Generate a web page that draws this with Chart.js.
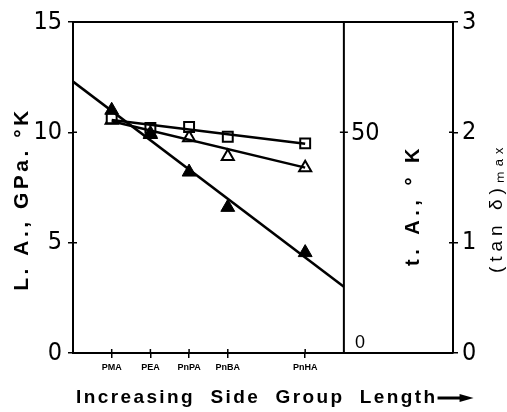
<!DOCTYPE html>
<html>
<head>
<meta charset="utf-8">
<script src="https://cdn.jsdelivr.net/npm/chart.js@4"></script>
<style>
  html, body { margin: 0; padding: 0; background: #fff; }
  canvas { display: block; }
</style>
</head>
<body>
<canvas id="chart" width="507" height="412"></canvas>
<script>
// dados
const categories = ['PMA', 'PEA', 'PnPA', 'PnBA', 'PnHA'];
const sideGroupLength = [1, 2, 3, 4, 6];
const laValues = [11.0, 9.95, 8.2, 6.6, 4.55];        // L.A., GPa.°K (filled triangles)
const taValues = [53.2, 51.0, 51.2, 49.0, 47.5];      // t.A., °K (open squares)
const tanDeltaValues = [2.11, 1.98, 1.95, 1.78, 1.68]; // (tan δ)max (open triangles)

// linhas ajustadas
const laFitX = [0, 7];
const laFit = [12.3, 3.0];
const taFitX = [1, 6];
const taFit = [52.8, 47.4];
const tanFitX = [1, 6];
const tanFit = [2.1, 1.68];

// ticks
const laTicks = [0, 5, 10, 15];
const taTicks = [0, 50];
const tanTicks = [0, 1, 2, 3];
const tAxisAt = 7; // eixo t.A. no meio

const numFont = '"Liberation Sans Narrow", "DejaVu Sans Condensed", sans-serif';
const boldFont = '"Liberation Sans", Arial, sans-serif';

function pts(xs, ys) {
    return xs.map((x, i) => ({ x: x, y: ys[i] }));
}

function rotatedText(ctx, text, x, y, font, spacing) {
    ctx.save();
    ctx.translate(x, y);
    ctx.rotate(-Math.PI / 2);
    ctx.font = font;
    ctx.letterSpacing = spacing;
    ctx.textAlign = 'center';
    ctx.textBaseline = 'middle';
    ctx.fillText(text, 0, 0);
    ctx.restore();
}

// desenha eixo do meio, titulos e marcas internas
const extraAxes = {
    id: 'extraAxes',
    afterDraw(chart) {
        const { ctx, chartArea, scales } = chart;
        const xm = scales.x.getPixelForValue(tAxisAt);
        ctx.save();
        ctx.strokeStyle = '#000';
        ctx.fillStyle = '#000';
        ctx.lineWidth = 2;

        // borda superior
        ctx.beginPath();
        ctx.moveTo(chartArea.left - 1, chartArea.top);
        ctx.lineTo(chartArea.right + 1, chartArea.top);
        ctx.stroke();

        // eixo t.A.
        ctx.beginPath();
        ctx.moveTo(xm, chartArea.top);
        ctx.lineTo(xm, chartArea.bottom);
        ctx.stroke();

        // marcas internas
        ctx.lineWidth = 1.5;
        ctx.beginPath();
        scales.x.ticks.forEach(t => {
            const px = scales.x.getPixelForValue(t.value);
            ctx.moveTo(px, chartArea.bottom);
            ctx.lineTo(px, chartArea.bottom - 4);
        });
        scales.y.ticks.forEach(t => {
            const py = scales.y.getPixelForValue(t.value);
            ctx.moveTo(chartArea.left, py);
            ctx.lineTo(chartArea.left + 4, py);
        });
        scales.y3.ticks.forEach(t => {
            const py = scales.y3.getPixelForValue(t.value);
            ctx.moveTo(chartArea.right, py);
            ctx.lineTo(chartArea.right - 4, py);
        });
        taTicks.forEach(v => {
            if (v === 0) return;
            const py = scales.y2.getPixelForValue(v);
            ctx.moveTo(xm - 4, py);
            ctx.lineTo(xm + 4, py);
        });
        ctx.stroke();

        // rotulos t.A.
        ctx.textAlign = 'left';
        taTicks.forEach(v => {
            const py = scales.y2.getPixelForValue(v);
            if (v === 0) {
                ctx.font = '18px ' + boldFont;
                ctx.textBaseline = 'bottom';
                ctx.fillText(String(v), xm + 11, py - 1);
            } else {
                ctx.font = '25px ' + numFont;
                ctx.textBaseline = 'middle';
                ctx.fillText(String(v), xm + 7, py + 1);
            }
        });

        // titulo do eixo x
        ctx.save();
        ctx.font = 'bold 19px ' + boldFont;
        ctx.letterSpacing = '2.4px';
        ctx.textAlign = 'left';
        ctx.textBaseline = 'middle';
        ctx.fillText('Increasing  Side  Group  Length', chartArea.left + 3, chartArea.bottom + 45);
        const w = ctx.measureText('Increasing  Side  Group  Length').width;
        ctx.restore();

        // seta
        const ax = chartArea.left + 3 + w;
        const ay = chartArea.bottom + 45;
        ctx.lineWidth = 3;
        ctx.beginPath();
        ctx.moveTo(ax, ay);
        ctx.lineTo(ax + 26, ay);
        ctx.stroke();
        ctx.beginPath();
        ctx.moveTo(ax + 36, ay);
        ctx.lineTo(ax + 22, ay - 4);
        ctx.lineTo(ax + 22, ay + 4);
        ctx.closePath();
        ctx.fill();

        // titulos girados (de baixo para cima)
        rotatedText(ctx, 'L. A., GPa. °K', 22, 199, 'bold 21px ' + boldFont, '3.5px');
        rotatedText(ctx, 't. A., ° K', xm + 70, 205, 'bold 20px ' + boldFont, '4.5px');
        rotatedText(ctx, '(tan δ)ₘₐₓ', chartArea.right + 44, 208, '19px ' + boldFont, '5px');

        ctx.restore();
    }
};

const ctx = document.getElementById('chart').getContext('2d');

new Chart(ctx, {
    type: 'line',
    data: {
        datasets: [
            {
                label: 'L.A. fit',
                data: pts(laFitX, laFit),
                yAxisID: 'y',
                borderColor: '#000',
                borderWidth: 2.5,
                pointRadius: 0
            },
            {
                label: 't.A. fit',
                data: pts(taFitX, taFit),
                yAxisID: 'y2',
                borderColor: '#000',
                borderWidth: 2.5,
                pointRadius: 0
            },
            {
                label: 'tan delta fit',
                data: pts(tanFitX, tanFit),
                yAxisID: 'y3',
                borderColor: '#000',
                borderWidth: 2.5,
                pointRadius: 0
            },
            {
                label: 'L.A.',
                data: pts(sideGroupLength, laValues),
                yAxisID: 'y',
                showLine: false,
                pointStyle: 'triangle',
                pointRadius: 8,
                pointBackgroundColor: '#000',
                pointBorderColor: '#000',
                pointBorderWidth: 1
            },
            {
                label: 't.A.',
                data: pts(sideGroupLength, taValues),
                yAxisID: 'y2',
                showLine: false,
                pointStyle: 'rect',
                pointRadius: 7,
                pointBackgroundColor: '#fff',
                pointBorderColor: '#000',
                pointBorderWidth: 2
            },
            {
                label: '(tan δ)max',
                data: pts(sideGroupLength, tanDeltaValues),
                yAxisID: 'y3',
                showLine: false,
                pointStyle: 'triangle',
                pointRadius: 7,
                pointBackgroundColor: '#fff',
                pointBorderColor: '#000',
                pointBorderWidth: 2
            }
        ]
    },
    options: {
        responsive: false,
        animation: false,
        layout: { padding: { top: 22, left: 0, right: 0, bottom: 0 } },
        plugins: {
            legend: { display: false },
            tooltip: { enabled: false }
        },
        scales: {
            x: {
                type: 'linear',
                min: 0,
                max: 9.82,
                afterBuildTicks: axis => {
                    axis.ticks = sideGroupLength.map(v => ({ value: v }));
                },
                afterFit: axis => { axis.height = 59; },
                grid: { display: true, drawOnChartArea: false, tickLength: 5, color: '#000', lineWidth: 1.5 },
                border: { color: '#000', width: 2 },
                ticks: {
                    color: '#000',
                    padding: 4,
                    maxRotation: 0,
                    autoSkip: false,
                    font: { family: boldFont, size: 9, weight: 'bold' },
                    callback: value => categories[sideGroupLength.indexOf(value)]
                }
            },
            y: {
                position: 'left',
                min: 0,
                max: 15,
                afterBuildTicks: axis => {
                    axis.ticks = laTicks.map(v => ({ value: v }));
                },
                afterFit: axis => { axis.width = 73; },
                grid: { display: true, drawOnChartArea: false, tickLength: 5, color: '#000', lineWidth: 1.5 },
                border: { color: '#000', width: 2 },
                ticks: {
                    color: '#000',
                    padding: 6,
                    font: { family: numFont, size: 25 }
                }
            },
            y2: {
                display: false,
                min: 0,
                max: 75
            },
            y3: {
                position: 'right',
                min: 0,
                max: 3,
                afterBuildTicks: axis => {
                    axis.ticks = tanTicks.map(v => ({ value: v }));
                },
                afterFit: axis => { axis.width = 54; },
                grid: { display: true, drawOnChartArea: false, tickLength: 5, color: '#000', lineWidth: 1.5 },
                border: { color: '#000', width: 2 },
                ticks: {
                    color: '#000',
                    padding: 4,
                    font: { family: numFont, size: 25 }
                }
            }
        }
    },
    plugins: [extraAxes]
});
</script>
</body>
</html>
